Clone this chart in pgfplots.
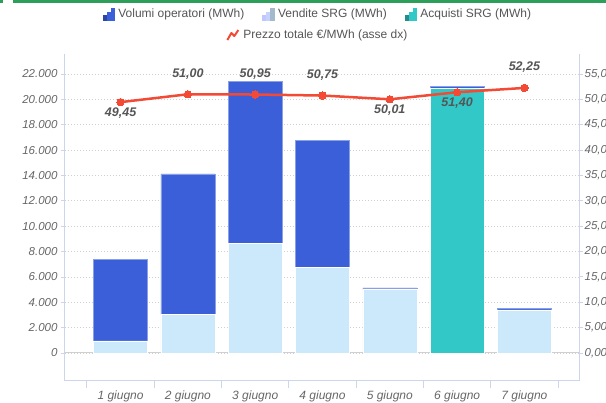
\documentclass[border=0pt]{standalone}
\usepackage{fontspec}
\setmainfont{Liberation Sans}
\usepackage{pgfplots}
\pgfplotsset{compat=1.18}
\definecolor{volblue}{HTML}{3A5FD9}
\definecolor{vendlight}{HTML}{CCE9FC}
\definecolor{acqteal}{HTML}{33C8C8}
\definecolor{pricered}{HTML}{F34A36}
\definecolor{gridc}{HTML}{D0D0D0}
\definecolor{axisc}{HTML}{CCD6EB}
\definecolor{ticklab}{HTML}{666666}
\definecolor{labc}{HTML}{555555}
\definecolor{topgreen}{HTML}{2E9E5B}
\begin{document}
\begin{tikzpicture}[x=1pt,y=1pt]
\useasboundingbox (0,0) rectangle (606,403);
\fill[topgreen] (0,400) rectangle (3,403);
\fill[topgreen] (13,400) rectangle (606,403);
\begin{axis}[
  at={(65pt,22pt)}, anchor=south west, scale only axis,
  width=514pt, height=327pt,
  xmin=0.174, xmax=7.811,
  ymin=-2208, ymax=23577,
  /pgf/number format/assume math mode=true,
  axis x line*=bottom, axis y line*=left,
  axis line style={axisc, line width=1pt},
  xtick={1,...,7},
  xticklabels={1 giugno,2 giugno,3 giugno,4 giugno,5 giugno,6 giugno,7 giugno},
  major x tick style={draw=none},
  minor xtick={0.5,1.5,...,7.5},
  minor x tick style={axisc, line width=1pt},
  minor tick length=7pt,
  major tick length=4pt,
  tick align=outside,
  y tick style={axisc, line width=0.8pt},
  ytick={0,2000,...,22000},
  scaled y ticks=false,
  yticklabel style={font=\fontsize{11.5}{13}\selectfont\itshape, text=ticklab, /pgf/number format/1000 sep={.}},
  xticklabel style={font=\fontsize{12}{14}\selectfont\itshape, text=ticklab, anchor=north, inner sep=0pt, yshift=-6pt},
  ymajorgrids,
  major grid style={gridc, line width=0.8pt, dash pattern=on 1pt off 2pt},
  extra y ticks={0}, extra y tick labels={},
  extra y tick style={grid=major, major grid style={solid, gridc, line width=1pt}},
  ybar stacked, bar width=54pt,
  legend style={at={(0.492,1.122)}, anchor=center, draw=none, fill=none,
    font=\fontsize{12}{14}\selectfont, text=labc, legend columns=3,
    /tikz/every even column/.append style={column sep=16pt},
    /tikz/every odd column/.append style={column sep=2pt}},
  legend cell align=left,
]
\addplot[forget plot, fill=vendlight, draw=white, line width=0.5pt] coordinates {(1,950) (2,3050) (3,8670) (4,6760) (5,5000) (6,0) (7,3400)};
\addplot[forget plot, fill=acqteal, draw=white, line width=0.5pt] coordinates {(1,0) (2,0) (3,0) (4,0) (5,0) (6,20900) (7,0)};
\addplot[forget plot, fill=volblue, draw=volblue!60!white, line width=0.4pt] coordinates {(1,6440) (2,11070) (3,12730) (4,9980) (5,140) (6,120) (7,120)};
\addlegendimage{legend image code/.code={
  \fill[volblue!75!black] (0pt,-6pt) rectangle (3.3pt,-1pt);
  \fill[volblue] (4pt,-6pt) rectangle (7.3pt,2pt);
  \fill[volblue] (8pt,-6pt) rectangle (11.3pt,6pt);}}
\addlegendentry{Volumi operatori (MWh)}
\addlegendimage{legend image code/.code={
  \fill[vendlight!70!blue!60!white] (0pt,-6pt) rectangle (3.3pt,-1pt);
  \fill[vendlight!70!blue!50!white] (4pt,-6pt) rectangle (7.3pt,2pt);
  \fill[vendlight!80!black] (8pt,-6pt) rectangle (11.3pt,6pt);}}
\addlegendentry{Vendite SRG (MWh)}
\addlegendimage{legend image code/.code={
  \fill[acqteal!70!black] (0pt,-6pt) rectangle (3.3pt,-1pt);
  \fill[acqteal] (4pt,-6pt) rectangle (7.3pt,2pt);
  \fill[acqteal] (8pt,-6pt) rectangle (11.3pt,6pt);}}
\addlegendentry{Acquisti SRG (MWh)}
\end{axis}
\begin{axis}[
  at={(65pt,22pt)}, anchor=south west, scale only axis,
  width=514pt, height=327pt,
  xmin=0.174, xmax=7.811,
  ymin=-5.52, ymax=58.94,
  /pgf/number format/assume math mode=true,
  axis x line=none, axis y line*=right,
  axis line style={axisc, line width=1pt},
  tick align=outside, major tick length=4pt,
  y tick style={axisc, line width=0.8pt},
  ytick={0,5,...,55},
  yticklabel={\pgfmathprintnumber[fixed,fixed zerofill,precision=2,use comma]{\tick}},
  yticklabel style={font=\fontsize{11.5}{13}\selectfont\itshape, text=ticklab, anchor=west, inner sep=0pt, xshift=1.5pt},
  clip=false,
  legend style={at={(0.492,1.058)}, anchor=center, draw=none, fill=none,
    font=\fontsize{12}{14}\selectfont, text=labc,
    /tikz/every odd column/.append style={column sep=2pt}},
]
\addplot[pricered, line width=2.5pt, mark=*, mark size=3.7pt, mark options={fill=pricered, draw=pricered, line width=0pt},
  legend image code/.code={\draw[pricered, line width=2pt, line join=round] (0pt,-5pt) -- (4pt,2pt) -- (7pt,-1pt) -- (11pt,5pt);}]
  coordinates {(1,49.45) (2,51.00) (3,50.95) (4,50.75) (5,50.01) (6,51.40) (7,52.25)};
\addlegendentry{Prezzo totale €/MWh (asse dx)}
\addplot[draw=none, forget plot, point meta=y,
  nodes near coords={\pgfmathprintnumber[fixed,fixed zerofill,precision=2,use comma]{\pgfplotspointmeta}},
  every node near coord/.append style={anchor=base, yshift=17pt, inner sep=0pt, text=labc, font=\fontsize{12.5}{14}\selectfont\bfseries\itshape}]
  coordinates {(2,51.00) (3,50.95) (4,50.75) (7,52.25)};
\addplot[draw=none, forget plot, point meta=y,
  nodes near coords={\pgfmathprintnumber[fixed,fixed zerofill,precision=2,use comma]{\pgfplotspointmeta}},
  every node near coord/.append style={anchor=base, yshift=-14pt, inner sep=0pt, text=labc, font=\fontsize{12.5}{14}\selectfont\bfseries\itshape}]
  coordinates {(1,49.45) (5,50.01) (6,51.40)};
\end{axis}
\end{tikzpicture}
\end{document}
